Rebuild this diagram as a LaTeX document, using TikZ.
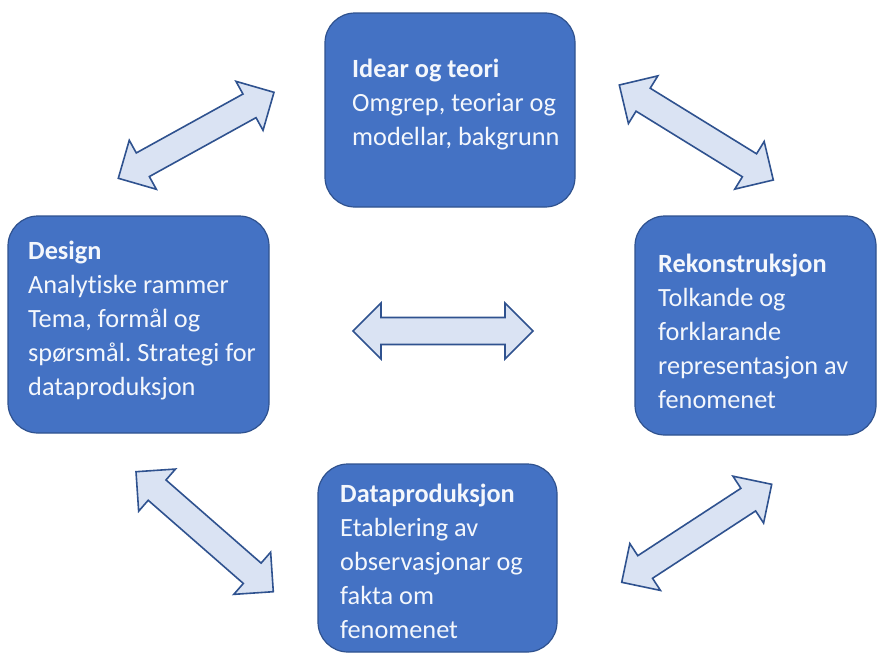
\documentclass[tikz,border=0pt]{standalone}
\usepackage{fontspec}
\setmainfont[Ligatures=NoCommon]{Carlito}
\usetikzlibrary{calc}
\definecolor{boxblue}{HTML}{4472C4}
\definecolor{boxedge}{HTML}{2F528F}
\definecolor{arrowfill}{HTML}{DAE3F3}
\definecolor{textwhite}{HTML}{F4F7FC}
\newcommand\blockarrow[3]{%
  \path ($(#2)!28pt!(#3)$) coordinate (#1a) ($(#3)!28pt!(#2)$) coordinate (#1b);
  \draw[barrow] (#2) -- ($(#1a)!28pt!90:(#3)$) -- ($(#1a)!13.5pt!90:(#3)$)
    -- ($(#1b)!13.5pt!-90:(#2)$) -- ($(#1b)!28pt!-90:(#2)$) -- (#3)
    -- ($(#1b)!28pt!90:(#2)$) -- ($(#1b)!13.5pt!90:(#2)$)
    -- ($(#1a)!13.5pt!-90:(#3)$) -- ($(#1a)!28pt!-90:(#3)$) -- cycle;
}
\frenchspacing
\begin{document}
\begin{tikzpicture}[x=1pt,y=-1pt,
  box/.style={draw=boxedge, line width=1.2pt, fill=boxblue, rounded corners=30pt, inner sep=0pt},
  txt/.style={text=textwhite, align=left, anchor=north west, inner sep=0pt, font=\fontsize{26.3}{34}\selectfont},
  barrow/.style={draw=boxedge, fill=arrowfill, line width=1.6pt, line join=miter}]
\useasboundingbox (0,0) rectangle (877,653);
% boxes
\node[box, minimum width=250pt, minimum height=194pt] (idear) at (450,110) {};
\node[box, minimum width=261pt, minimum height=217pt] (design) at (138.5,324.5) {};
\node[box, minimum width=241pt, minimum height=219pt] (rekon) at (755.5,325.5) {};
\node[box, minimum width=239pt, minimum height=188pt] (data) at (437.5,558) {};
% texts
\node[txt] (idearT) at (352,53.2) {\strut\textbf{Idear og teori}\\Omgrep, teoriar og\\modellar, bakgrunn};
\node[txt] (designT) at (28,235.2) {\strut\textbf{Design}\\Analytiske rammer\\Tema, formål og\\spørsmål. Strategi for\\dataproduksjon};
\node[txt] (rekonT) at (658,248.2) {\strut\textbf{Rekonstruksjon}\\Tolkande og\\forklarande\\representasjon av\\fenomenet};
\node[txt] (dataT) at (340,478.2) {\strut\textbf{Dataproduksjon}\\Etablering av\\observasjonar og\\fakta om\\fenomenet};
% arrow tips
\coordinate (tlA) at (118.3,178.3); \coordinate (tlB) at (274,92.3);
\coordinate (trA) at (619.3,85);    \coordinate (trB) at (773.3,180);
\coordinate (blA) at (136,471.7);   \coordinate (blB) at (273.3,591.7);
\coordinate (brA) at (621.7,582.3); \coordinate (brB) at (771.7,484.3);
\coordinate (hA) at (353,331);      \coordinate (hB) at (533,331);
\blockarrow{tl}{tlA}{tlB}
\blockarrow{tr}{trA}{trB}
\blockarrow{bl}{blA}{blB}
\blockarrow{br}{brA}{brB}
\blockarrow{h}{hA}{hB}
\end{tikzpicture}
\end{document}
